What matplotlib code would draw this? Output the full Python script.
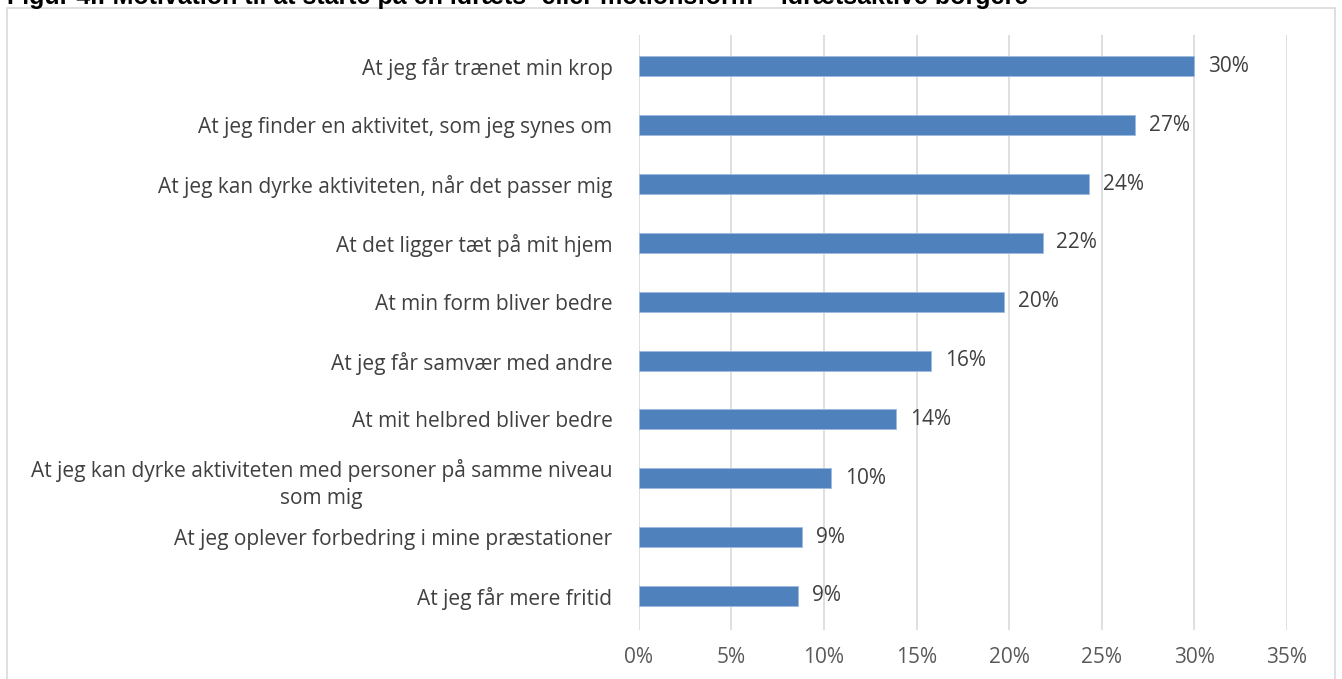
import matplotlib.pyplot as plt
from matplotlib.patches import Rectangle

plt.rcParams['font.family'] = ['Open Sans', 'DejaVu Sans']

# kategorier, øverst først
labels = ["At jeg får trænet min krop",
          "At jeg finder en aktivitet, som jeg synes om",
          "At jeg kan dyrke aktiviteten, når det passer mig",
          "At det ligger tæt på mit hjem",
          "At min form bliver bedre",
          "At jeg får samvær med andre",
          "At mit helbred bliver bedre",
          "At jeg kan dyrke aktiviteten med personer på samme niveau\nsom mig",
          "At jeg oplever forbedring i mine præstationer",
          "At jeg får mere fritid"]
values = [30.0, 26.8, 24.3, 21.8, 19.7, 15.8, 13.9, 10.4, 8.8, 8.6]
value_text = ["30%", "27%", "24%", "22%", "20%", "16%", "14%", "10%", "9%", "9%"]
xticks = [0, 5, 10, 15, 20, 25, 30, 35]

fs = 15

fig = plt.figure(figsize=(13.42, 6.79), dpi=100)
ax = fig.add_axes([0.476, 0.072, 0.483, 0.876])

n = len(labels)
ypos = list(range(n - 1, -1, -1))
ax.barh(ypos, values, height=0.34, color='#4f81bd', edgecolor='#9dbbe0', linewidth=0.6, zorder=3)
for y, v, t in zip(ypos, values, value_text):
    ax.text(v + 0.75, y, t, va='center', ha='left', fontsize=fs, color='#404040')

ax.set_xlim(0, 35)
ax.set_ylim(-0.58, n - 0.47)
ax.set_xticks(xticks)
ax.set_xticklabels([f"{t}%" for t in xticks], fontsize=fs, color='#595959')
ax.set_yticks(ypos)
ax.set_yticklabels(labels, fontsize=fs, color='#404040', multialignment='center', linespacing=1.4)
ax.tick_params(axis='both', length=0)
ax.tick_params(axis='y', pad=19)
ax.tick_params(axis='x', pad=12)
ax.grid(axis='x', color='#d9d9d9', linewidth=1.2, zorder=0)
for s in ax.spines.values():
    s.set_visible(False)

# ramme omkring diagrammet
fig.patches.append(Rectangle((7 / 1342, -0.01), 1328 / 1342, 1 - 8 / 679 + 0.01,
                             transform=fig.transFigure, fill=False,
                             edgecolor='#d9d9d9', linewidth=1.2))

fig.text(0.005, 1 - 4 / 679, "Figur 4.: Motivation til at starte på en idræts- eller motionsform – idrætsaktive borgere",
         fontsize=18, fontweight='bold', family='Liberation Sans', va='baseline', ha='left')

fig.savefig('out.png', dpi=100)
